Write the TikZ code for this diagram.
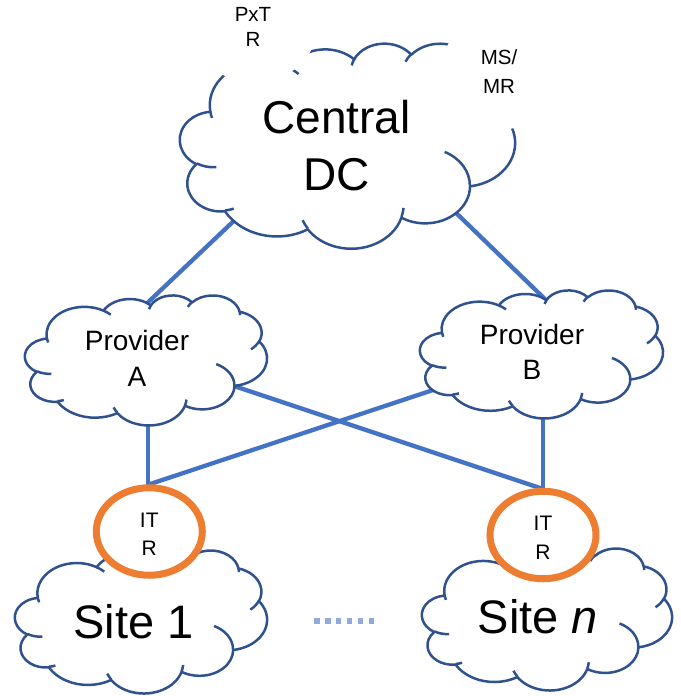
\documentclass[tikz,border=0pt]{standalone}
\usepackage{fontspec}
\setmainfont{Liberation Sans}
\usetikzlibrary{backgrounds,shapes.geometric}
\definecolor{cloudline}{HTML}{2F528F}
\definecolor{linkblue}{HTML}{4472C4}
\definecolor{itrorange}{HTML}{ED7D31}
\definecolor{dotblue}{HTML}{8FAADC}

% point of the cloud path, in hundreds of path units (path box = 432 x 432)
\newcommand\cldpt[2]{\pgfpoint{\cldX pt+#1*\cldSx pt}{0pt-\cldY pt-#2*\cldSy pt}}
% DrawingML arcTo: wR, hR (path units), start angle, sweep (degrees, visual)
\newcommand\cldarc[4]{%
  \pgfmathsetmacro\cldA{#3}%
  \pgfmathsetmacro\cldB{#3+#4}%
  \pgfmathsetmacro\cldtS{atan2(#1*sin(\cldA),#2*cos(\cldA))}%
  \pgfmathsetmacro\cldtE{atan2(#1*sin(\cldB),#2*cos(\cldB))}%
  \pgfmathsetmacro\cldtE{\cldtE<\cldtS ? \cldtE+360 : \cldtE}%
  \pgfmathsetmacro\cldtS{0-(\cldtS)}%
  \pgfmathsetmacro\cldtE{0-(\cldtE)}%
  \pgfmathsetmacro\cldrx{#1/100*\cldSx}%
  \pgfmathsetmacro\cldry{#2/100*\cldSy}%
  \pgfpatharc{\cldtS}{\cldtE}{\cldrx pt and \cldry pt}%
}
% cloud: left, top, width, height (image pixels)
\newcommand\pptcloud[4]{%
 \begin{pgfscope}
  \def\cldX{#1}\def\cldY{#2}%
  \pgfmathsetmacro\cldSx{#3/432}\pgfmathsetmacro\cldSy{#4/432}%
  \pgfsetlinewidth{2.5pt}\pgfsetstrokecolor{cloudline}\pgfsetfillcolor{white}%
  \pgfsetroundjoin
  \pgfpathmoveto{\cldpt{39.00}{143.70}}%
  \cldarc{6753}{9190}{-190.4875}{123.7805}%
  \cldarc{5333}{7267}{-144.1024}{89.9452}%
  \cldarc{4365}{5945}{-145.8079}{99.7230}%
  \cldarc{4857}{6595}{-130.9861}{117.2417}%
  \cldarc{5333}{7273}{-78.7089}{109.0269}%
  \cldarc{6775}{9220}{-46.2673}{130.2690}%
  \cldarc{5785}{7867}{0.6250}{114.0333}%
  \cldarc{6752}{9215}{22.4516}{115.1726}%
  \cldarc{7720}{10543}{66.2426}{75.7110}%
  \cldarc{4360}{5918}{-274.9421}{146.7356}%
  \cldarc{4345}{5945}{-246.8285}{152.5189}%
  \pgfpathclose
  \pgfusepath{fill,stroke}%
  \pgfpathmoveto{\cldpt{46.93}{261.77}}\cldarc{4345}{5945}{86.7420}{26.4295}%
  \pgfpathmoveto{\cldpt{69.28}{348.99}}\cldarc{4360}{5918}{73.6105}{11.4475}%
  \pgfpathmoveto{\cldpt{164.78}{390.90}}\cldarc{6752}{9215}{137.6242}{14.0811}%
  \pgfpathmoveto{\cldpt{288.27}{347.51}}\cldarc{6752}{9215}{6.4533}{15.9984}%
  \pgfpathmoveto{\cldpt{341.29}{229.54}}\cldarc{5785}{7867}{-70.2924}{70.9174}%
  \pgfpathmoveto{\cldpt{417.98}{153.54}}\cldarc{5333}{7273}{30.3180}{27.7515}%
  \pgfpathmoveto{\cldpt{383.24}{54.26}}\cldarc{4857}{6595}{-13.7443}{14.8589}%
  \pgfpathmoveto{\cldpt{290.78}{39.52}}\cldarc{4857}{6595}{-149.1815}{18.1954}%
  \pgfpathmoveto{\cldpt{221.41}{47.20}}\cldarc{4365}{5945}{-163.4943}{17.6864}%
  \pgfpathmoveto{\cldpt{140.00}{51.92}}\cldarc{6753}{9190}{-66.7070}{12.3194}%
  \pgfpathmoveto{\cldpt{41.27}{157.89}}\cldarc{6753}{9190}{157.6544}{11.8582}%
  \pgfusepath{stroke}%
 \end{pgfscope}
}

\tikzset{
  lbl/.style={inner sep=0pt, align=center},
  ring/.style={ellipse, draw=itrorange, line width=7pt, fill=white,
    minimum width=106pt, minimum height=87.5pt, inner sep=0pt, align=center,
    font=\fontsize{21}{28.5}\selectfont},
  link/.style={draw=linkblue, line width=4.3pt},
  dots/.style={draw=dotblue, line width=5.5pt, dash pattern=on 5.6pt off 5.3pt},
}

\begin{document}
\begin{tikzpicture}[x=1pt,y=-1pt]
\useasboundingbox (0,0) rectangle (680,696);

% clouds
\pptcloud{180}{43}{335}{205}
\pptcloud{25}{295}{242}{130}
\pptcloud{420}{290}{243}{128}
\pptcloud{15}{550}{252}{143}
\pptcloud{422}{548}{250}{142}

% gaps in the outline of the central cloud
\fill[white] (254,30) ellipse [x radius=62pt, y radius=52pt];
\fill[white] (499,72) circle [radius=58pt];

% routers
\node[ring] (itr1) at (149.3,531.5) {\rule{0pt}{20pt}IT\\R};
\node[ring] (itr2) at (543,535) {\rule{0pt}{20pt}IT\\R};

% labels
\node[lbl, font=\fontsize{46}{57}\selectfont] (dc) at (336.5,145.7) {Central\\DC};
\node[lbl, font=\fontsize{28}{36}\selectfont] (pa) at (137,358.8) {Provider\\A};
\node[lbl, font=\fontsize{28}{35}\selectfont] (pb) at (532,352) {Provider\\B};
\node[lbl, font=\fontsize{47}{56}\selectfont, anchor=base] (s1) at (133.5,638) {Site 1};
\node[lbl, font=\fontsize{47}{56}\selectfont, anchor=base] (sn) at (538,633) {Site \textit{n}};
\node[lbl, font=\fontsize{20.5}{25}\selectfont] (pxtr) at (253,26.7) {PxT\\R};
\node[lbl, font=\fontsize{20.5}{29}\selectfont] (msmr) at (499,71.5) {MS/\\MR};

% dotted gap between the sites
\draw[dots] ([shift={(180.5,-17)}]s1.base) -- ([shift={(-164,-12)}]sn.base);

% links
\begin{pgfonlayer}{background}
\draw[link] ([shift={(-97.5,70.3)}]dc.center) -- ([shift={(5,-50.8)}]pa.center);
\draw[link] ([shift={(115.5,63.3)}]dc.center) -- ([shift={(16,-50)}]pb.center);
\draw[link] ([shift={(91,25.2)}]pa.center) -- ([shift={(0,-46)}]itr2.center);
\draw[link] ([shift={(-92,35.7)}]pb.center) -- ([shift={(0,-47.2)}]itr1.center);
\draw[link] ([shift={(11.3,53.2)}]pa.center) -- ([shift={(-1,-41.5)}]itr1.center);
\draw[link] ([shift={(11,58)}]pb.center) -- ([shift={(0,-45)}]itr2.center);
\end{pgfonlayer}
\end{tikzpicture}
\end{document}
